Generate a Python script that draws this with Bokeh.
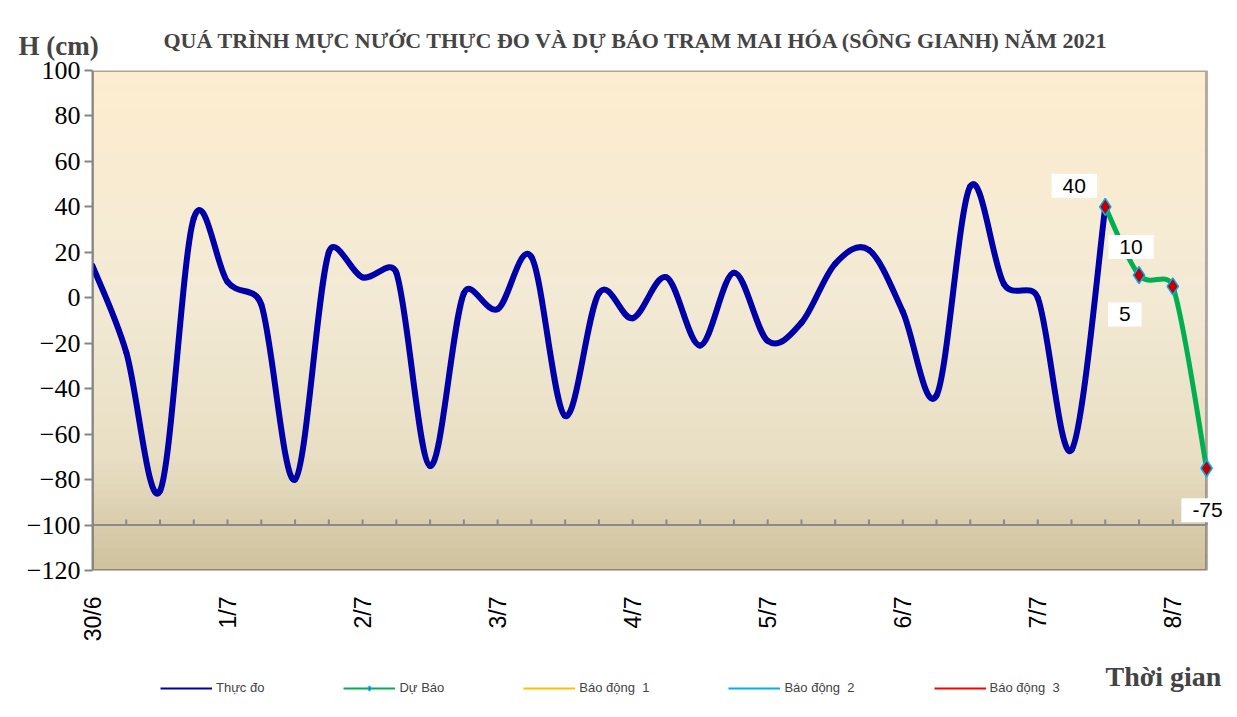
import math
import numpy as np
from bokeh.plotting import figure
from bokeh.layouts import column
from bokeh.models import (FixedTicker, BoxAnnotation, Label, Legend, LegendItem,
                          ColumnDataSource, Range1d)
from bokeh.embed import file_html
from bokeh.resources import INLINE

# ---------------- data ----------------
date_labels = ["30/6", "1/7", "2/7", "3/7", "4/7", "5/7", "6/7", "7/7", "8/7"]
steps_per_day = 4
observed = [14, -24, -85, 35, 7, -3, -80, 20, 9, 11, -74, 2, -5, 18, -52, 2,
            -9, 9, -21, 11, -19, -11, 15, 21, -6, -43, 49, 6, 0, -67, 40]
forecast = [40, 10, 5, -75]
forecast_start = len(observed) - 1
nan = float("nan")
alarm_1 = [nan]   # alarm levels lie off this chart's scale
alarm_2 = [nan]
alarm_3 = [nan]
y_ticks = list(range(-120, 101, 20))
axis_cross = -100

n_total = forecast_start + len(forecast)
obs_x = list(range(len(observed)))
fc_x = [forecast_start + i for i in range(len(forecast))]
all_x = list(range(n_total))
x_last = n_total - 1

# ---------------- layout constants ----------------
W = 1229
FRAME_W = 1136
FRAME_H = 500
x_pad_right = 0.65   # room right of the plot area for the last data label
PX_X = FRAME_W / (x_last + x_pad_right)
PX_Y = FRAME_H / (y_ticks[-1] - y_ticks[0])


def smooth_source(xs, ys):
    """Bezier segments in the style of a spreadsheet 'smoothed line'."""
    n = len(xs)

    def dist(i, j):
        return math.hypot((xs[i] - xs[j]) * PX_X, (ys[i] - ys[j]) * PX_Y)

    d = dict(x0=[], y0=[], x1=[], y1=[], cx0=[], cy0=[], cx1=[], cy1=[])
    for i in range(n - 1):
        a = i - 1 if i > 0 else i
        b = i + 2 if i + 2 < n else i + 1
        d12 = dist(i, i + 1)
        d02 = dist(a, i + 1)
        d13 = dist(i, b)
        f1 = min(1 / 6, d12 / (2 * d02)) if d02 > 0 else 0
        f2 = min(1 / 6, d12 / (2 * d13)) if d13 > 0 else 0
        d["x0"].append(xs[i]); d["y0"].append(ys[i])
        d["x1"].append(xs[i + 1]); d["y1"].append(ys[i + 1])
        d["cx0"].append(xs[i] + (xs[i + 1] - xs[a]) * f1)
        d["cy0"].append(ys[i] + (ys[i + 1] - ys[a]) * f1)
        d["cx1"].append(xs[i + 1] - (xs[b] - xs[i]) * f2)
        d["cy1"].append(ys[i + 1] - (ys[b] - ys[i]) * f2)
    return ColumnDataSource(d)


# ---------------- main figure ----------------
p = figure(width=W, height=655, x_range=(0, x_last + x_pad_right),
           y_range=(y_ticks[0], y_ticks[-1]),
           output_backend="svg", toolbar_location=None,
           min_border_left=92, min_border_right=1, min_border_top=70, min_border_bottom=85)
p.grid.visible = False
p.background_fill_color = "white"
p.border_fill_color = "white"
p.outline_line_color = None
p.title.visible = False

# gradient plot-area background
stops = [(0.0, (253, 236, 207)), (0.45, (243, 234, 213)), (0.78, (232, 222, 195)), (1.0, (206, 193, 156))]


def grad(t):
    for (t0, c0), (t1, c1) in zip(stops[:-1], stops[1:]):
        if t <= t1:
            f = (t - t0) / (t1 - t0)
            return "#%02x%02x%02x" % tuple(int(round(c0[k] + (c1[k] - c0[k]) * f)) for k in range(3))
    return "#%02x%02x%02x" % stops[-1][1]


N = 70
ymax, ymin = y_ticks[-1], y_ticks[0]
h = (ymax - ymin) / N
for k in range(N):
    top = ymax - k * h
    p.add_layout(BoxAnnotation(top=top + 0.3, bottom=top - h - 0.3, left=0, right=x_last,
                               fill_color=grad((k + 0.5) / N), fill_alpha=1,
                               line_color=None, level="underlay"))
# plot-area border
p.add_layout(BoxAnnotation(top=ymax, bottom=ymin, left=0, right=x_last, fill_alpha=0,
                           line_color="black", line_width=3, level="underlay"))

# crossing axis line at -100 with ticks
p.segment(x0=[all_x[0]], y0=[axis_cross], x1=[all_x[-1]], y1=[axis_cross],
          line_color="#8a8a8a", line_width=2)
p.segment(x0=all_x, y0=[axis_cross] * n_total, x1=all_x, y1=[axis_cross + 2.4] * n_total,
          line_color="#8a8a8a", line_width=2)

# series
blue = "#0000A8"
green = "#00B050"
p.bezier(x0="x0", y0="y0", x1="x1", y1="y1", cx0="cx0", cy0="cy0", cx1="cx1", cy1="cy1",
         source=smooth_source(obs_x, observed), line_color=blue, line_width=6, line_cap="round")
p.bezier(x0="x0", y0="y0", x1="x1", y1="y1", cx0="cx0", cy0="cy0", cx1="cx1", cy1="cy1",
         source=smooth_source(fc_x, forecast), line_color=green, line_width=5, line_cap="round")
p.scatter(fc_x, forecast, marker="diamond", size=17, fill_color="#C00000",
          line_color="#00B0F0", line_width=1.5)

# data labels
label_offsets = [(-31, 21), (-8, 28), (-48, -28), (1, -42)]
for xv, yv, (dx, dy) in zip(fc_x, forecast, label_offsets):
    p.add_layout(Label(x=xv, y=yv, x_offset=dx, y_offset=dy, text=str(yv),
                       text_align="center", text_baseline="middle",
                       text_font="Liberation Sans", text_font_size="21px", text_color="black",
                       background_fill_color="white", background_fill_alpha=1, padding=(11, 5)))

# axes
p.yaxis.ticker = FixedTicker(ticks=y_ticks)
p.yaxis.major_label_text_font = "Liberation Serif"
p.yaxis.major_label_text_font_size = "26px"
p.yaxis.major_label_text_color = "black"
p.yaxis.axis_line_color = "#868686"
p.yaxis.axis_line_width = 2
p.yaxis.major_tick_line_color = "#868686"
p.yaxis.major_tick_line_width = 2
p.yaxis.major_tick_out = 8
p.yaxis.major_tick_in = 0
p.yaxis.minor_tick_line_color = None
p.yaxis.major_label_standoff = 4

day_ticks = [i * steps_per_day for i in range(len(date_labels))]
p.xaxis.ticker = FixedTicker(ticks=day_ticks)
p.xaxis.major_label_overrides = {t: lab for t, lab in zip(day_ticks, date_labels)}
p.xaxis.major_label_orientation = np.pi / 2
p.xaxis.major_label_text_font = "Liberation Sans"
p.xaxis.major_label_text_font_size = "23px"
p.xaxis.major_label_text_color = "black"
p.xaxis.axis_line_color = None
p.xaxis.major_tick_line_color = None
p.xaxis.minor_tick_line_color = None
p.xaxis.major_label_standoff = 20

# titles (side panel, so they are not clipped)
p.add_layout(Label(x=71, y=30, x_units="screen", y_units="screen",
                   text="QUÁ TRÌNH MỰC NƯỚC THỰC ĐO VÀ DỰ BÁO TRẠM MAI HÓA (SÔNG GIANH) NĂM  2021",
                   text_font="Liberation Serif", text_font_style="bold", text_font_size="22px",
                   text_baseline="middle", text_align="left"), "above")
p.add_layout(Label(x=-74, y=0, x_units="screen", y_units="screen", text="H (cm)",
                   text_font="Liberation Serif", text_font_style="bold", text_font_size="27px",
                   text_baseline="middle", text_align="left"), "above")

# ---------------- legend strip (frame aligned with the main plot) ----------------
q = figure(width=W, height=54, x_range=Range1d(0, 1), y_range=Range1d(0, 1),
           x_axis_location=None, y_axis_location=None, output_backend="svg",
           toolbar_location=None, min_border=0)
q.grid.visible = False
q.outline_line_color = None
q.background_fill_color = "white"
q.border_fill_color = "white"
q.title.visible = False

r1 = q.line(x=[nan], y=[nan], line_color=blue, line_width=2)
r2 = q.line(x=[nan], y=[nan], line_color=green, line_width=2)
r2m = q.scatter(x=[nan], y=[nan], marker="diamond", size=12, fill_color="#C00000",
                line_color="#00B0F0", line_width=1.5)
r3 = q.line(x=alarm_1, y=alarm_1, line_color="#FFC000", line_width=2)
r4 = q.line(x=alarm_2, y=alarm_2, line_color="#00B0F0", line_width=2)
r5 = q.line(x=alarm_3, y=alarm_3, line_color="#FF0000", line_width=2)
legend = Legend(items=[LegendItem(label="Thực đo", renderers=[r1]),
                       LegendItem(label="Dự Báo", renderers=[r2, r2m]),
                       LegendItem(label="Báo động  1", renderers=[r3]),
                       LegendItem(label="Báo động  2", renderers=[r4]),
                       LegendItem(label="Báo động  3", renderers=[r5])],
                orientation="horizontal", location=(68, 14), spacing=79,
                glyph_width=52, glyph_height=12, label_standoff=4,
                label_text_font="Liberation Sans", label_text_font_size="13px",
                background_fill_alpha=0, border_line_color=None, padding=0, margin=0)
q.add_layout(legend)
q.add_layout(Label(x=1013, y=33, x_units="screen", y_units="screen", text="Thời gian",
                   text_font="Liberation Serif", text_font_style="bold", text_font_size="28px",
                   text_baseline="middle", text_align="left"))

layout = column(p, q, spacing=0)
open("out.html", "w").write(file_html(layout, INLINE))
